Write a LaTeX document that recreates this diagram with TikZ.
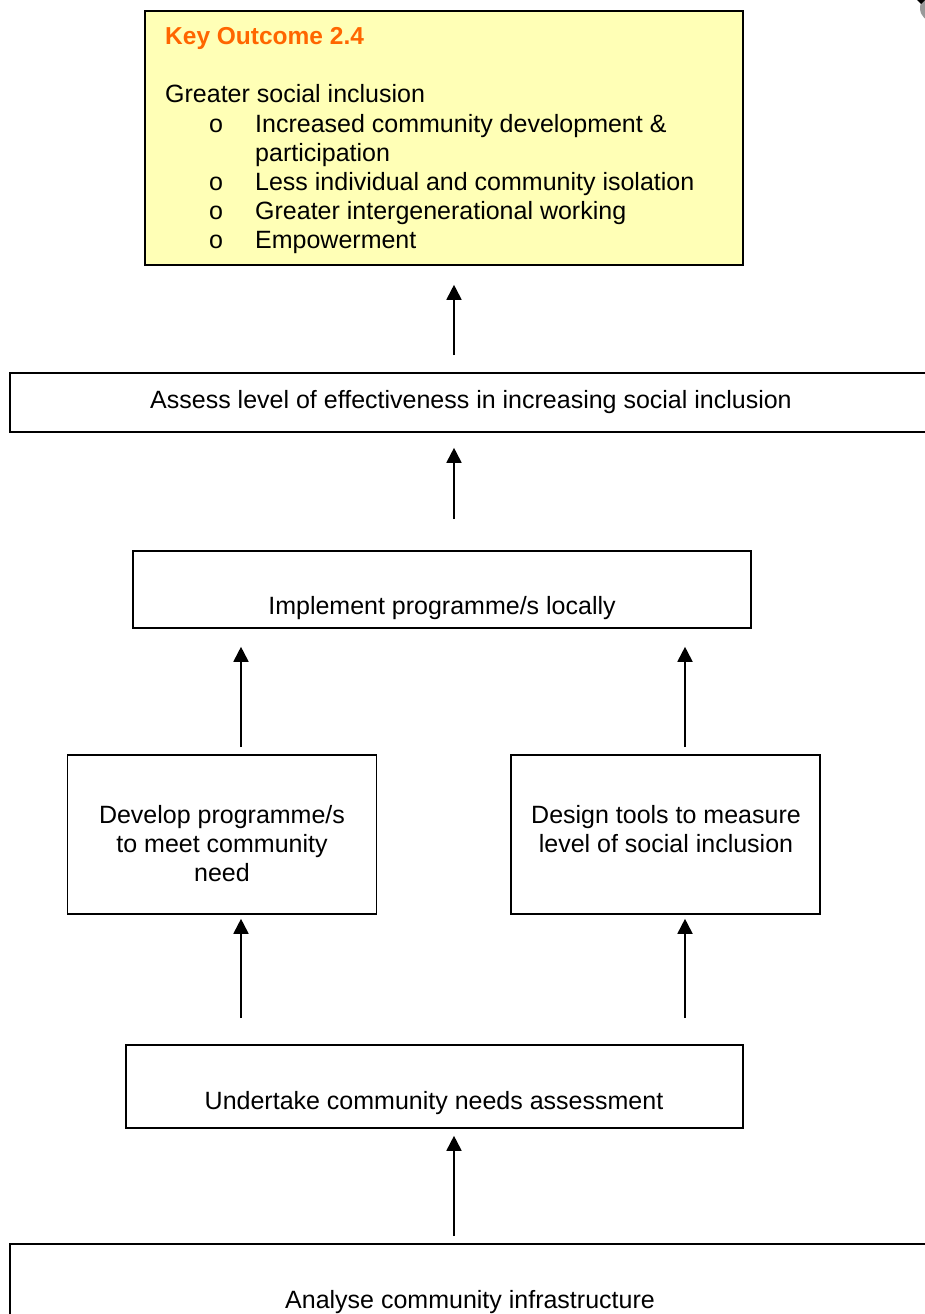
\documentclass[tikz,border=0pt]{standalone}
\usepackage{fontspec}
\setmainfont{Liberation Sans}
\usetikzlibrary{arrows.meta}
\definecolor{keyfill}{HTML}{FFFFB6}
\definecolor{keyorange}{HTML}{FF6600}
\begin{document}
\begin{tikzpicture}[x=1pt,y=-1pt,
  box/.style={draw=black,line width=1.6pt,inner sep=0pt},
  lbl/.style={font=\fontsize{25}{28.6}\selectfont,inner sep=0pt,align=center,anchor=base},
  up/.style={-{Triangle[width=15pt,length=15pt]},line width=1.8pt}]
\clip (0,0) rectangle (925,1314);
\fill[white] (0,0) rectangle (925,1314);

% small grey mark in the corner
\fill[gray!80] (934,8) circle (14pt);
\fill[black] (917,0) -- (925,0) -- (921,4) -- cycle;

% boxes
\node[box,fill=keyfill,minimum width=598pt,minimum height=254pt] (key) at (444,138) {};
\node[box,minimum width=922pt,minimum height=59pt] (assess) at (471,402.5) {};
\node[box,minimum width=618pt,minimum height=77pt] (impl) at (442,589.5) {};
\node[box,minimum width=309pt,minimum height=159pt] (dev) at (222,834.5) {};
\node[box,minimum width=309pt,minimum height=159pt] (design) at (665.5,834.5) {};
\node[box,minimum width=617pt,minimum height=83pt] (under) at (434.5,1086.5) {};
\node[box,minimum width=922pt,minimum height=96pt] (analyse) at (471,1292) {};

% key outcome text
\node[anchor=base west,inner sep=0pt,font=\fontsize{24.5}{29}\selectfont\bfseries,text=keyorange] (keyhead) at (165,45) {Key Outcome 2.4};
\node[anchor=base west,inner sep=0pt,font=\fontsize{25}{29}\selectfont] (keygoal) at (165,102) {Greater social inclusion};
\node[anchor=base west,inner sep=0pt,font=\fontsize{25}{29}\selectfont] (keylist) at (209,132) {%
  \begin{tabular}[t]{@{}p{46pt}@{}l@{}}
  o & Increased community development \& \\
    & participation \\
  o & Less individual and community isolation \\
  o & Greater intergenerational working \\
  o & Empowerment
  \end{tabular}};

% box labels (base anchor = baseline of the last line)
\node[lbl] (assesst) at (471,408) {Assess level of effectiveness in increasing social inclusion};
\node[lbl] (implt) at (442,614) {Implement programme/s locally};
\node[lbl] (devt) at (222,881) {Develop programme/s\\to meet community\\need};
\node[lbl] (designt) at (666,852) {Design tools to measure\\level of social inclusion};
\node[lbl] (undert) at (434,1109) {Undertake community needs assessment};
\node[lbl] (analyset) at (470,1308) {Analyse community infrastructure};

% connectors
\coordinate (cx) at (454,0);
\coordinate (lx) at (241,0);
\coordinate (rx) at (685,0);
\draw[up,shorten <=17pt,shorten >=19pt] (assess.north -| cx) -- (key.south -| cx);
\draw[up,shorten <=31pt,shorten >=15pt] (impl.north -| cx) -- (assess.south -| cx);
\draw[up,shorten <=7pt,shorten >=18pt] (dev.north -| lx) -- (impl.south -| lx);
\draw[up,shorten <=7pt,shorten >=18pt] (design.north -| rx) -- (impl.south -| rx);
\draw[up,shorten <=26pt,shorten >=4pt] (under.north -| lx) -- (dev.south -| lx);
\draw[up,shorten <=26pt,shorten >=4pt] (under.north -| rx) -- (design.south -| rx);
\draw[up,shorten <=7pt,shorten >=7pt] (analyse.north -| cx) -- (under.south -| cx);
\end{tikzpicture}
\end{document}
